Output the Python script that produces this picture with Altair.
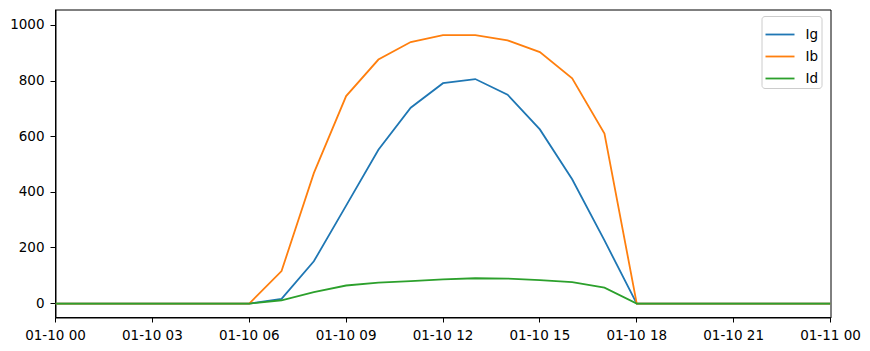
import altair as alt
import pandas as pd

hours = list(range(25))
times = [f"2020-01-{10 + h // 24:02d}T{h % 24:02d}:00:00Z" for h in hours]
ig = [0, 0, 0, 0, 0, 0, 0, 17, 152, 352, 553, 704, 792, 807, 751, 626, 447, 227, 0, 0, 0, 0, 0, 0, 0]
ib = [0, 0, 0, 0, 0, 0, 0, 117, 469, 746, 877, 940, 965, 965, 946, 904, 810, 611, 0, 0, 0, 0, 0, 0, 0]
id_ = [0, 0, 0, 0, 0, 0, 0, 12, 41, 65, 75, 81, 87, 91, 90, 84, 77, 57, 0, 0, 0, 0, 0, 0, 0]
series_names = ["Ig", "Ib", "Id"]
series_colors = ["#1f77b4", "#ff7f0e", "#2ca02c"]
y_ticks = [0, 200, 400, 600, 800, 1000]
x_tick_hours = [0, 3, 6, 9, 12, 15, 18, 21, 24]

rows = []
for name, vals in zip(series_names, [ig, ib, id_]):
    for t, v in zip(times, vals):
        rows.append({"time": t, "series": name, "value": v, "order": series_names.index(name)})
df = pd.DataFrame(rows)

x_ticks = [alt.DateTime(year=2020, month=1, date=10 + h // 24, hours=h % 24, utc=True) for h in x_tick_hours]

font = "DejaVu Sans"
fs = 13.5
chart = alt.Chart(df).mark_line(strokeWidth=1.8, clip=True).encode(
    x=alt.X("time:T", title=None,
            scale=alt.Scale(type="utc", domain=[x_ticks[0], x_ticks[-1]], nice=False),
            axis=alt.Axis(values=x_ticks, format="%m-%d %H", grid=False,
                          labelFontSize=fs, labelColor="black", tickColor="black", domainColor="black",
                          tickSize=5, labelPadding=6, labelFont=font, labelFlush=False, translate=0)),
    y=alt.Y("value:Q", title=None,
            scale=alt.Scale(domain=[-50, 1057], nice=False, zero=False),
            axis=alt.Axis(values=y_ticks, format="d", grid=False, labelFontSize=fs, labelColor="black",
                          tickColor="black", domainColor="black", tickSize=5, labelPadding=6,
                          labelFont=font, translate=0)),
    color=alt.Color("series:N", scale=alt.Scale(domain=series_names, range=series_colors),
                    legend=alt.Legend(title=None, orient="none", legendX=706, legendY=6.5,
                                      symbolType="stroke", symbolStrokeWidth=1.8, symbolSize=841,
                                      labelFontSize=fs, labelFont=font, labelColor="black",
                                      strokeColor="#cccccc", cornerRadius=3, padding=3,
                                      fillColor="white", labelOffset=10, rowPadding=-1)),
    order=alt.Order("order:Q"),
    detail="series:N",
).properties(
    width=775, height=308,
    autosize=alt.AutoSizeParams(type="none"),
    padding={"left": 55.5, "top": 9.5, "right": 39.5, "bottom": 33.5},
).configure(font=font).configure_view(stroke="black", strokeWidth=1)

chart.save("out.html", embed_options={"renderer": "svg", "actions": False})
